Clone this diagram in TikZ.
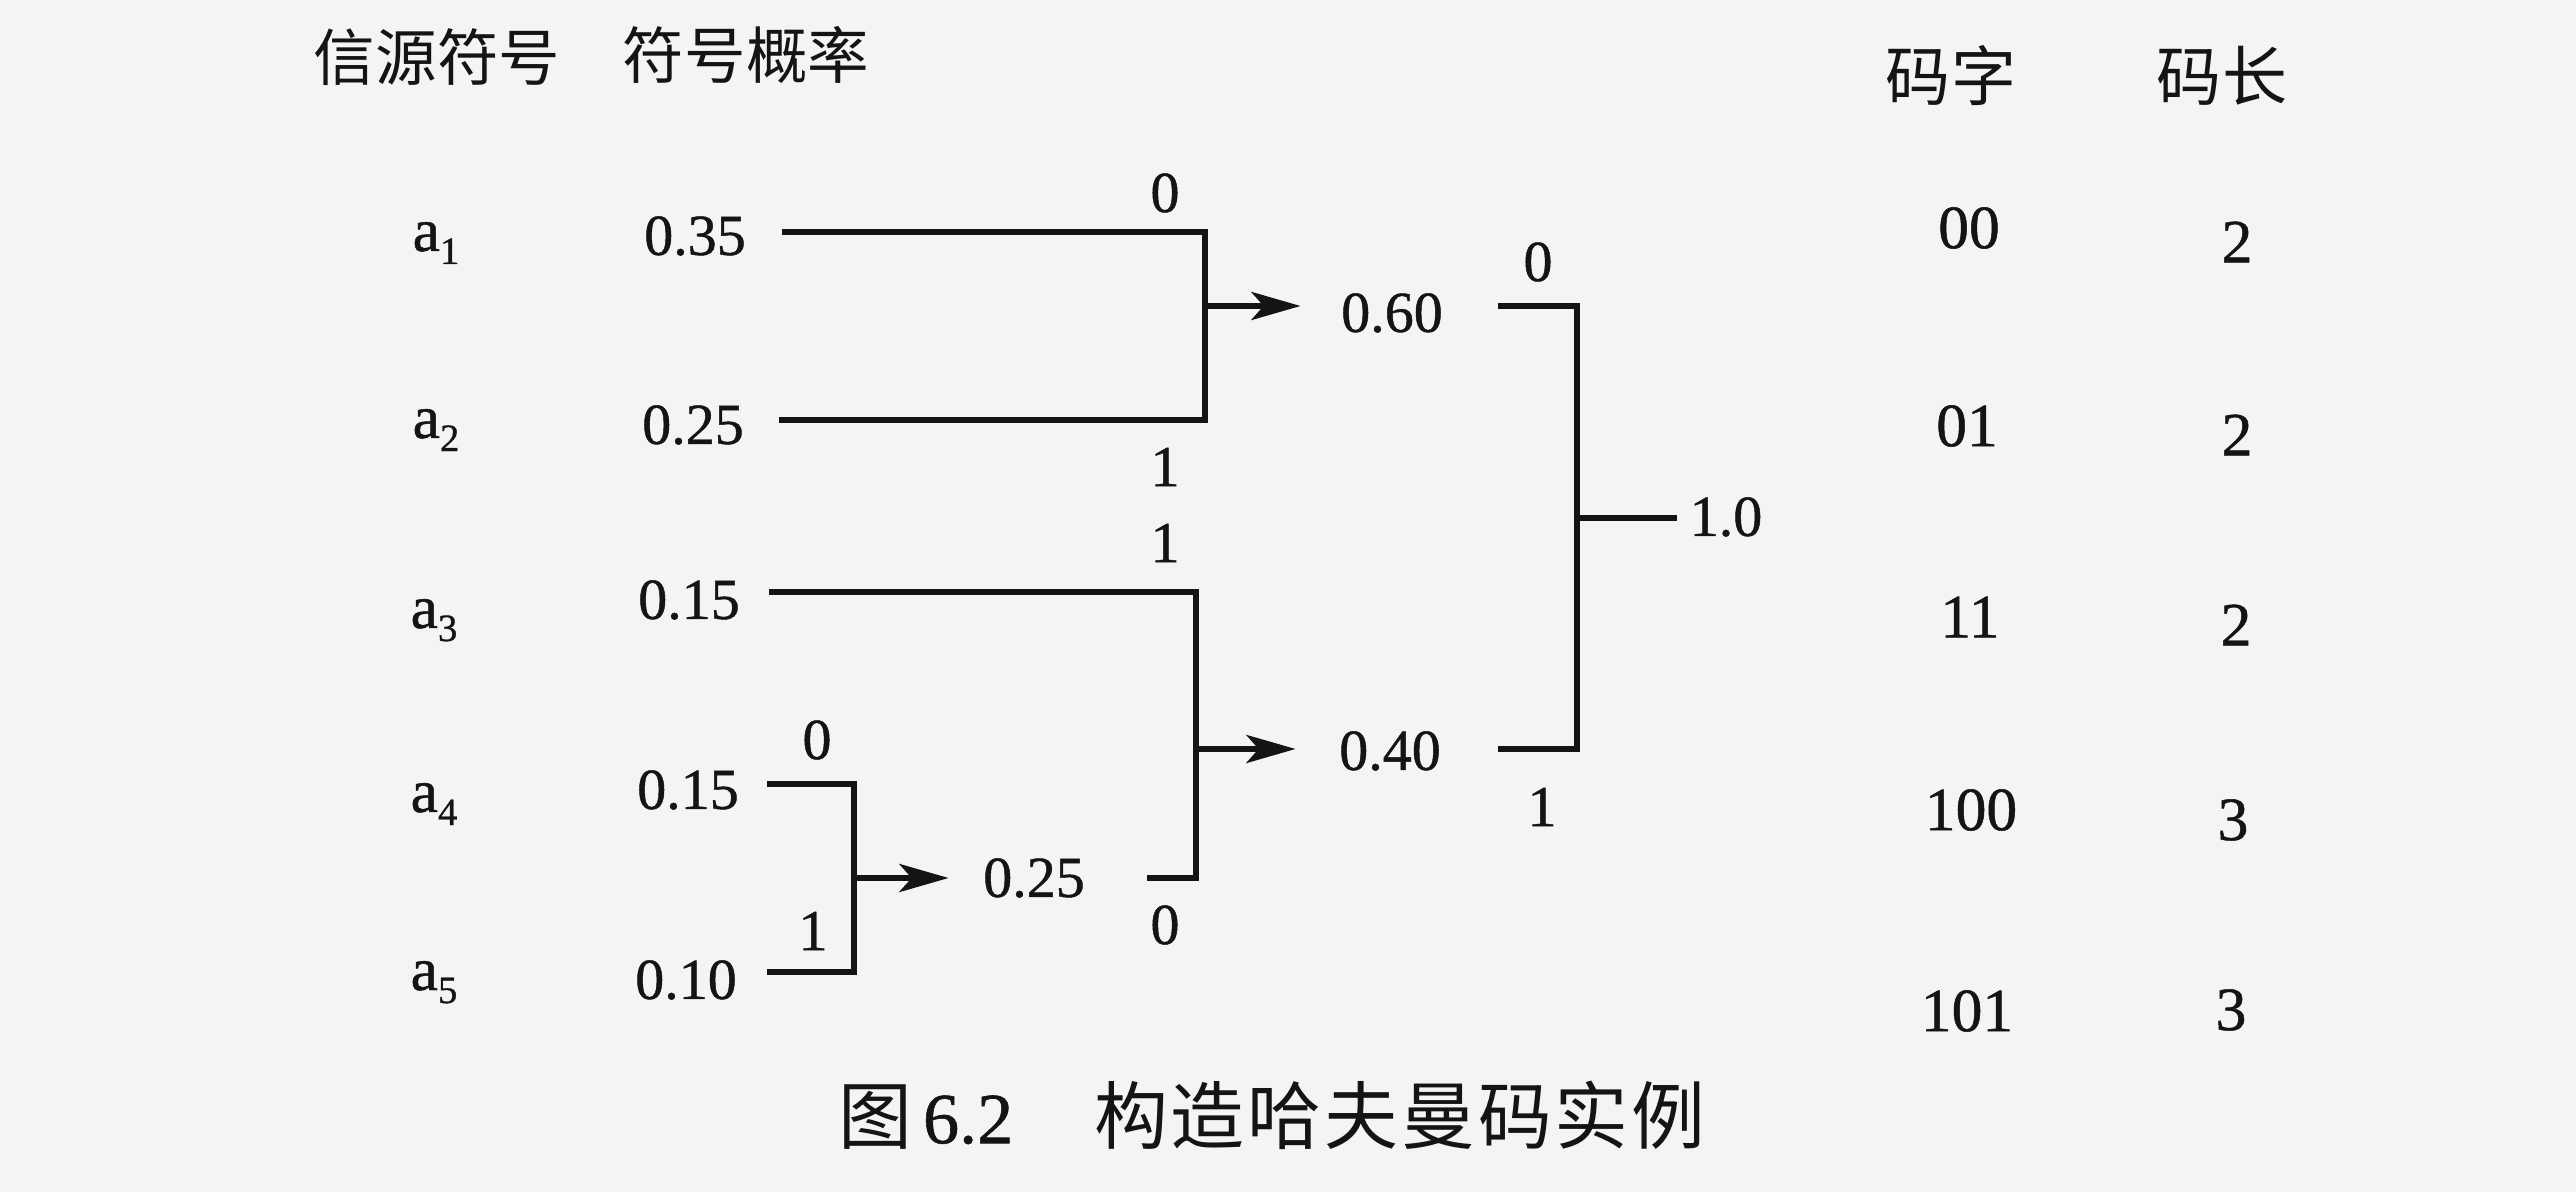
\documentclass[tikz,border=0pt]{standalone}
\usepackage{fontspec}
\setmainfont{Liberation Serif}[FakeBold=0.8]
\newfontfamily\cjk{Noto Sans CJK SC}
\newfontfamily\cjkwide{Noto Sans CJK SC}[LetterSpace=4]
\usetikzlibrary{arrows.meta}
\definecolor{paper}{RGB}{246,244,243}
\definecolor{ink}{RGB}{20,20,20}
\newcommand\asub[1]{a\raisebox{-3.7pt}{\fontsize{11}{11}\selectfont #1}}
\begin{document}
\begin{tikzpicture}[x=0.01cm,y=-0.01cm,
  ln/.style={line width=1.45pt,draw=ink},
  arr/.style={line width=1.45pt,draw=ink,fill=ink,-{Stealth[length=14pt,width=8pt,inset=3.5pt]}},
  num/.style={font=\fontsize{16.5}{18}\selectfont,inner sep=0pt,text=ink},
  bit/.style={font=\fontsize{16.5}{18}\selectfont,inner sep=0pt,text=ink},
  tab/.style={font=\fontsize{17.5}{20}\selectfont,inner sep=0pt,text=ink},
  hdl/.style={font=\cjk\fontsize{17.5}{20}\selectfont,inner sep=0pt,text=ink},
  hdr/.style={font=\cjk\fontsize{18.5}{20}\selectfont,inner sep=0pt,text=ink},
  sym/.style={font=\fontsize{17.5}{20}\selectfont,inner sep=0pt,anchor=base west,text=ink}]
\useasboundingbox[fill=paper] (0,0) rectangle (2576,1192);

% headers
\node[hdl] (h1) at (437,57) {信源符号};
\node[hdl] (h2) at (746,55) {符号概率};
\node[hdr] (h3) at (1951,76) {码字};
\node[hdr] (h4) at (2222,76) {码长};

% source symbols
\node[sym] (a1) at (412,251) {\asub{1}};
\node[sym] (a2) at (412,438) {\asub{2}};
\node[sym] (a3) at (410,628) {\asub{3}};
\node[sym] (a4) at (410,812) {\asub{4}};
\node[sym] (a5) at (410,990) {\asub{5}};

% probabilities
\node[num] (p1) at (695,236) {0.35};
\node[num] (p2) at (693,425) {0.25};
\node[num] (p3) at (689,600) {0.15};
\node[num] (p4) at (688,790) {0.15};
\node[num] (p5) at (686,980) {0.10};
\node[num] (q1) at (1034,878) {0.25};
\node[num] (r1) at (1392,313) {0.60};
\node[num] (r2) at (1390,751) {0.40};
\node[num] (rt) at (1726,517) {1.0};

% junctions
\coordinate (j1) at (1205,306);
\coordinate (j2) at (854,878);
\coordinate (j3) at (1196,749);
\coordinate (j4) at (1577,518);

% merges
\draw[ln] ([shift={(36,-4)}]p1.east) -| (j1) |- ([shift={(35,-5)}]p2.east);
\draw[arr] (j1) -- ([shift={(-40,-7)}]r1.west);

\draw[ln] ([shift={(28,-6)}]p4.east) -| (j2) |- ([shift={(30,-8)}]p5.east);
\draw[arr] (j2) -- ([shift={(-34,0)}]q1.west);

\draw[ln] ([shift={(29,-8)}]p3.east) -| (j3) |- ([shift={(62,0)}]q1.east);
\draw[arr] (j3) -- ([shift={(-43,-2)}]r2.west);

\draw[ln] ([shift={(55,-7)}]r1.east) -| (j4) |- ([shift={(57,-2)}]r2.east);
\draw[ln] (j4) -- ([shift={(-12,1)}]rt.west);

% branch bits
\node[bit] (b1) at (1165,193) {0};
\node[bit] (b2) at (1165,467) {1};
\node[bit] (b3) at (1165,543) {1};
\node[bit] (b4) at (1165,925) {0};
\node[bit] (b5) at (817,740) {0};
\node[bit] (b6) at (813,931) {1};
\node[bit] (b7) at (1538,262) {0};
\node[bit] (b8) at (1542,807) {1};

% code words and lengths
\node[tab] (c1) at (1969,228) {00};
\node[tab] (c2) at (1967,426) {01};
\node[tab] (c3) at (1970,617) {11};
\node[tab] (c4) at (1971,810) {100};
\node[tab] (c5) at (1967,1011) {101};
\node[tab] (l1) at (2237,242) {2};
\node[tab] (l2) at (2237,435) {2};
\node[tab] (l3) at (2236,625) {2};
\node[tab] (l4) at (2233,820) {3};
\node[tab] (l5) at (2231,1010) {3};

% caption
\node[font=\cjk\fontsize{21}{24}\selectfont,inner sep=0pt,anchor=west,text=ink] (cap) at (838,1115)
  {图\hspace{3pt}{\rmfamily\fontsize{20.5}{22}\selectfont 6.2}\hspace{23pt}{\cjkwide 构造哈夫曼码实例}};
\end{tikzpicture}
\end{document}
